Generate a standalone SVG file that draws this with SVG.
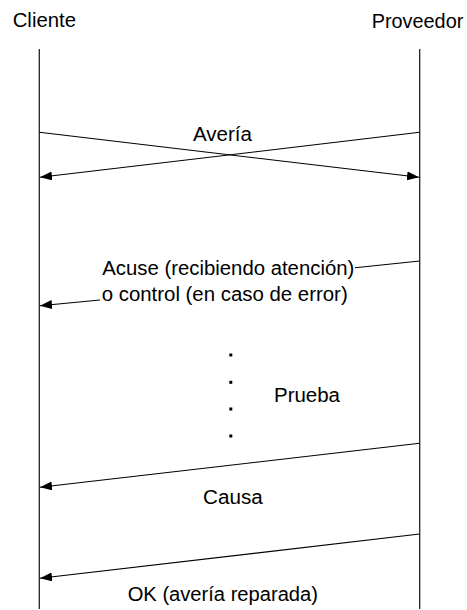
<svg xmlns="http://www.w3.org/2000/svg" width="467" height="610" viewBox="0 0 467 610">
<style>
text{font-family:"Liberation Sans",Arial,sans-serif;font-size:19.5px;fill:#000}
.life{stroke:#222;stroke-width:1.3;fill:none}
.msg{stroke:#000;stroke-width:1.1;fill:none}
.dot{fill:#000}
</style>
<defs>
<marker id="ah" markerUnits="userSpaceOnUse" markerWidth="14" markerHeight="10" refX="12" refY="4.5" orient="auto">
<path d="M0,0 L12,4.5 L0,9 Z" fill="#000"/>
</marker>
</defs>
<rect width="467" height="610" fill="#fff"/>
<g id="cliente">
<text x="12.7" y="26.5" textLength="63.3" lengthAdjust="spacingAndGlyphs">Cliente</text>
<line class="life" x1="39.3" y1="49" x2="39.3" y2="609"/>
</g>
<g id="proveedor">
<text x="371.7" y="28" textLength="91.6" lengthAdjust="spacingAndGlyphs">Proveedor</text>
<line class="life" x1="419.7" y1="49" x2="419.7" y2="609"/>
</g>
<g id="connectors">
<line class="msg" x1="39.3" y1="132.3" x2="419" y2="177.3" marker-end="url(#ah)"/>
<line class="msg" x1="419.7" y1="132.3" x2="40" y2="177.3" marker-end="url(#ah)"/>
<line class="msg" x1="419.7" y1="261" x2="355" y2="267.7"/>
<line class="msg" x1="100" y1="300" x2="40" y2="305.7" marker-end="url(#ah)"/>
<line class="msg" x1="419.7" y1="443.3" x2="40" y2="487.3" marker-end="url(#ah)"/>
<line class="msg" x1="419.7" y1="534" x2="40" y2="578.3" marker-end="url(#ah)"/>
</g>
<g id="labels">
<text x="193" y="140.7" textLength="59" lengthAdjust="spacingAndGlyphs">Avería</text>
<text x="102.3" y="275" textLength="252" lengthAdjust="spacingAndGlyphs">Acuse (recibiendo atención)</text>
<text x="101.7" y="300.7" textLength="246" lengthAdjust="spacingAndGlyphs">o control (en caso de error)</text>
<text x="274" y="401.7" textLength="66" lengthAdjust="spacingAndGlyphs">Prueba</text>
<text x="203" y="504" textLength="59.7" lengthAdjust="spacingAndGlyphs">Causa</text>
<text x="127.7" y="601" textLength="190.3" lengthAdjust="spacingAndGlyphs">OK (avería reparada)</text>
</g>
<g id="dots">
<rect class="dot" x="229.3" y="353.5" width="3" height="3"/>
<rect class="dot" x="229.3" y="380.8" width="3" height="3"/>
<rect class="dot" x="229.3" y="407.5" width="3" height="3"/>
<rect class="dot" x="229.3" y="434.5" width="3" height="3"/>
</g>
</svg>
